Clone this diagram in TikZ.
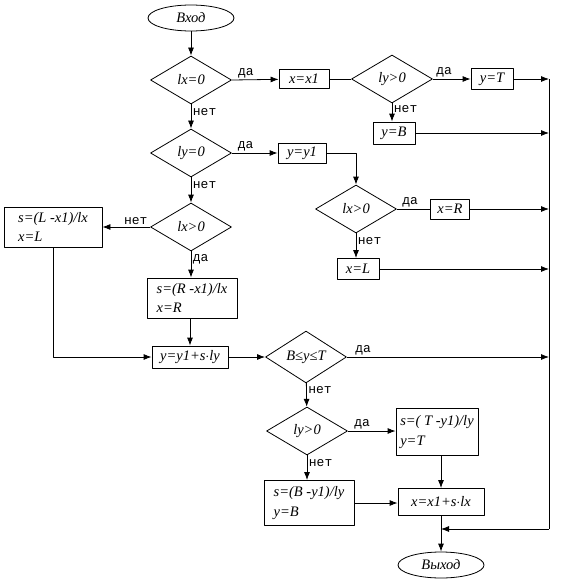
\documentclass[tikz,border=0pt]{standalone}
\usepackage{fontspec}
\setmainfont{Liberation Serif}
\newfontfamily\lblfont{Liberation Mono}
\usetikzlibrary{shapes.geometric,arrows.meta}
\newcommand{\txt}{\fontsize{14.5}{19.5}\selectfont\itshape}
\tikzset{
  blk/.style={draw, rectangle, inner xsep=3pt, inner ysep=0pt, font=\txt, align=left},
  cond/.style={draw, diamond, minimum width=81pt, minimum height=48pt, inner sep=0pt, font=\txt},
  term/.style={draw, ellipse, minimum width=86pt, minimum height=26pt, inner sep=0pt, font=\txt},
  lbl/.style={font=\lblfont\fontsize{13}{15}\selectfont, inner sep=1.5pt},
  arr/.style={-{Latex[length=8pt,width=6pt]}}
}
\begin{document}
\begin{tikzpicture}[x=1pt, y=-1pt, line width=0.8pt, line join=round]
\useasboundingbox (0,0) rectangle (560,586);
\node[term] (in) at (191,18) {Вход};
\node[cond] (d1) at (191,80) {lx=0};
\node[blk, minimum width=50pt, minimum height=19pt] (b1) at (304,79) {x=x1};
\node[cond] (d2) at (392,79) {ly>0};
\node[blk, minimum width=42pt, minimum height=21pt] (b2) at (492,79) {y=T};
\node[blk, minimum width=42pt, minimum height=22pt] (b3) at (394,133) {y=B};
\node[cond] (d3) at (191,153) {ly=0};
\node[blk, minimum width=48pt, minimum height=20pt] (b4) at (302,153) {y=y1};
\node[cond] (d4) at (356,209) {lx>0};
\node[blk, minimum width=39pt, minimum height=20pt] (b5) at (450,209) {x=R};
\node[blk, minimum width=42pt, minimum height=21pt] (b6) at (358,269) {x=L};
\node[cond] (d5) at (191,227) {lx>0};
\node[blk, minimum width=98pt, minimum height=40pt] (b7) at (53,227) {s=(L -x1)/lx\\x=L};
\node[blk, minimum width=90pt, minimum height=40pt] (b8) at (192,298) {s=(R -x1)/lx\\x=R};
\node[blk, minimum width=76pt, minimum height=22pt] (b9) at (190,357) {y=y1+s$\cdot$ly};
\node[cond] (d6) at (306,357) {B≤y≤T};
\node[cond] (d7) at (307,431) {ly>0};
\node[blk, minimum width=82pt, minimum height=47pt] (b10) at (437,432) {s=( T -y1)/ly\\y=T};
\node[blk, minimum width=90pt, minimum height=45pt] (b11) at (309,503) {s=(B -y1)/ly\\y=B};
\node[blk, minimum width=86pt, minimum height=27pt] (b12) at (441,502) {x=x1+s$\cdot$lx};
\node[term] (out) at (441,565) {Выход};
\coordinate (rt) at (549,79);
\coordinate (rb) at (549,529);
\draw (rt) -- (rb);
\draw[arr] (in) -- (d1);
\draw[arr] (d1.east) -- node[lbl, pos=0.3, above] {да} (b1);
\draw (b1) -- (d2);
\draw[arr] (d2.east) -- node[lbl, pos=0.3, above] {да} (b2);
\draw[arr] (b2) -- (b2 -| rt);
\draw[arr] (d2.south) -- node[lbl, pos=0.3, right] {нет} (d2.south |- b3.north);
\draw[arr] (b3) -- (b3 -| rt);
\draw[arr] (d1) -- node[lbl, pos=0.3, right] {нет} (d3);
\draw[arr] (d3.east) -- node[lbl, pos=0.3, above] {да} (b4);
\draw[arr] (b4.east) -| (d4.north);
\draw (d4.east) -- node[lbl, pos=0.4, above] {да} (b5);
\draw[arr] (b5) -- (b5 -| rt);
\draw[arr] (d4.south) -- node[lbl, pos=0.3, right] {нет} (d4.south |- b6.north);
\draw[arr] (b6) -- (b6 -| rt);
\draw[arr] (d3) -- node[lbl, pos=0.3, right] {нет} (d5);
\draw[arr] (d5.west) -- node[lbl, pos=0.3, above] {нет} (b7);
\draw[arr] (d5) -- node[lbl, pos=0.3, right] {да} (d5 |- b8.north);
\draw[arr] (b8.south -| b9.north) -- (b9.north);
\draw[arr] (b7.south) |- (b9.west);
\draw[arr] (b9) -- (d6);
\draw[arr] (d6.east) -- node[lbl, pos=0.08, above] {да} (d6 -| rt);
\draw[arr] (d6) -- node[lbl, pos=0.3, right] {нет} (d7);
\draw[arr] (d7.east) -- node[lbl, pos=0.3, above] {да} (d7 -| b10.west);
\draw[arr] (d7.south) -- node[lbl, pos=0.3, right] {нет} (d7.south |- b11.north);
\draw[arr] (b11.east) -- (b11.east -| b12.west);
\draw[arr] (b10.south -| b12.north) -- (b12.north);
\draw[arr] (b12) -- (out);
\draw[arr] (rb) -- (rb -| b12.south);
\end{tikzpicture}
\end{document}
